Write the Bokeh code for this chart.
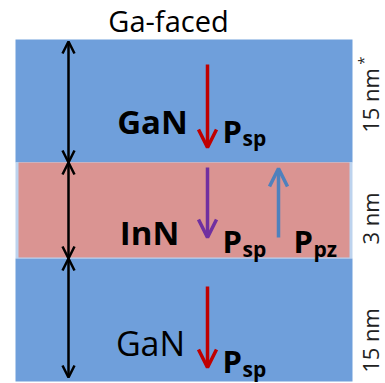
import math
from bokeh.plotting import figure
from bokeh.models import Range1d, Arrow, OpenHead
from bokeh.core.properties import value
from bokeh.embed import file_html
from bokeh.resources import INLINE

# ---- diagram content (reference pixel space, y grows downward) ----
layer_names = ["GaN", "InN", "GaN"]
layer_top = [39, 162, 258]
layer_bottom = [162, 258, 381]
layer_colors = ["#6F9FDB", "#DA9492", "#6F9FDB"]
layer_weights = ["bold", "bold", "normal"]
thickness_labels = ["15 nm", "3 nm", "15 nm"]
polar_labels = ["sp", "sp", "sp", "pz"]
polar_colors = ["#C00000", "#7030A0", "#C00000", "#4F81BD"]
title_text = "Ga-faced"

FONT = value("Open Sans")

p = figure(width=385, height=383, output_backend="svg", toolbar_location=None,
           x_range=Range1d(0, 385), y_range=Range1d(383, 0),
           min_border=0, outline_line_color=None, background_fill_color=None,
           border_fill_color=None)
p.axis.visible = False
p.grid.visible = False

XL, XR = 15, 352

# layers
for i in range(3):
    if layer_names[i] == "InN":
        p.quad(left=XL, right=XR, top=layer_top[i], bottom=layer_bottom[i],
               fill_color="#BDD3EE", line_color=None)
        p.quad(left=XL + 3, right=XR - 3, top=layer_top[i], bottom=layer_bottom[i] - 1,
               fill_color=layer_colors[i], line_color=None)
    else:
        p.quad(left=XL, right=XR, top=layer_top[i], bottom=layer_bottom[i],
               fill_color=layer_colors[i], line_color=None)

# thickness double arrows
xa = 68
for i in range(3):
    t = layer_top[i] + (2 if i == 0 else 0)
    b = layer_bottom[i] - (4 if i == 2 else 0)
    p.add_layout(Arrow(x_start=xa, y_start=t, x_end=xa, y_end=b,
                       line_color="black", line_width=2.5,
                       start=OpenHead(size=12, line_color="black", line_width=2.5),
                       end=OpenHead(size=12, line_color="black", line_width=2.5)))

# polarization arrows
arrows = [(207, 64, 207, 147), (207, 167, 207, 237), (207, 286, 207, 367), (278, 237, 278, 168)]
for (x0, y0, x1, y1), c in zip(arrows, polar_colors):
    p.add_layout(Arrow(x_start=x0, y_start=y0, x_end=x1, y_end=y1,
                       line_color=c, line_width=3.5,
                       end=OpenHead(size=18, line_color=c, line_width=3.5)))

# layer names
name_x = [152, 149, 150]
name_y = [121, 232, 342]
for i in range(3):
    p.text(x=[name_x[i]], y=[name_y[i]], text=[layer_names[i]], text_font=FONT,
           text_font_size="34px" if i == 2 else "33px", text_font_style=layer_weights[i],
           text_align="center", text_baseline="alphabetic", text_color="black")

# P labels
px = [222, 222, 222, 293]
py = [130, 240, 360, 240]
p.text(x=px, y=py, text=["P"] * 4, text_font=FONT, text_font_size="31px",
       text_font_style="bold", text_align="left", text_baseline="alphabetic",
       text_color="black")
sx = [242, 242, 242, 313]
sy = [137, 248, 368, 248]
p.text(x=sx, y=sy, text=polar_labels, text_font=FONT, text_font_size="21px",
       text_font_style="bold", text_align="left", text_baseline="alphabetic",
       text_color="black")

# title
p.text(x=[168], y=[20], text=[title_text], text_font=FONT, text_font_size="29px",
       text_align="center", text_baseline="middle", text_color="black")

# thickness labels (rotated)
ty = [100, 218, 340]
p.text(x=[369] * 3, y=ty, text=thickness_labels, text_font=FONT, text_font_size="22px",
       angle=math.pi / 2, text_align="center", text_baseline="middle", text_color="#222222")
p.text(x=[362], y=[60], text=["*"], text_font=FONT, text_font_size="15px",
       angle=math.pi / 2, text_align="center", text_baseline="middle", text_color="#222222")

open("out.html", "w").write(file_html(p, INLINE))
